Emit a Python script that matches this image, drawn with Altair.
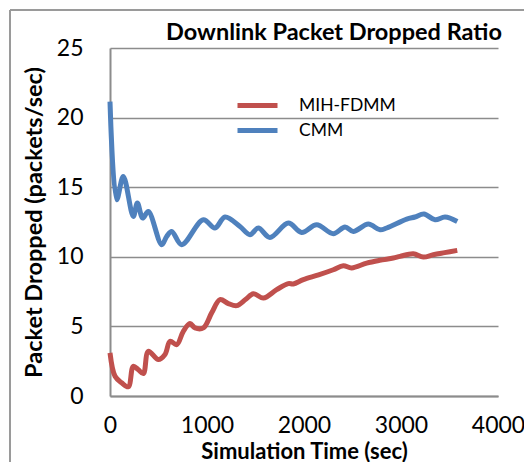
import altair as alt
import pandas as pd

# MIH-FDMM series (red)
mih_x = [0, 52, 120, 189, 240, 290, 344, 395, 498, 567, 619, 688, 756, 825, 876, 962, 1048,
         1134, 1220, 1306, 1400, 1478, 1581, 1718, 1838, 1890, 1993, 2150, 2302, 2405, 2491,
         2646, 2780, 2921, 2990, 3127, 3230, 3333, 3450, 3580]
mih_y = [3.1, 1.42, 0.95, 0.66, 2.14, 1.9, 1.61, 3.21, 2.62, 2.98, 3.93, 3.69, 4.65, 5.2, 4.89,
         4.89, 5.97, 6.92, 6.64, 6.49, 6.95, 7.35, 7.04, 7.64, 8.07, 8.05, 8.36, 8.7, 9.07, 9.36,
         9.2, 9.55, 9.75, 9.91, 10.03, 10.22, 9.98, 10.15, 10.3, 10.46]

# CMM series (blue)
cmm_x = [0, 69, 137, 240, 282, 337, 395, 533, 584, 636, 739, 962, 1082, 1186, 1340, 1443,
         1529, 1649, 1838, 1976, 2131, 2302, 2423, 2508, 2663, 2784, 2853, 3059, 3144, 3237,
         3351, 3454, 3580]
cmm_y = [21.15, 14.1, 15.77, 12.9, 13.86, 12.78, 13.26, 10.87, 11.46, 11.82, 10.87, 12.66,
         12.07, 12.86, 12.18, 11.59, 12.07, 11.39, 12.42, 11.75, 12.3, 11.66, 12.14, 11.82,
         12.35, 11.94, 12.07, 12.71, 12.86, 13.07, 12.66, 12.86, 12.54]

series_names = ["MIH-FDMM", "CMM"]
series_colors = ["#C0504D", "#4F81BD"]
y_ticks = [0, 5, 10, 15, 20, 25]
x_ticks = [0, 1000, 2000, 3000, 4000]
chart_title = "Downlink Packet Dropped Ratio"

df = pd.concat([
    pd.DataFrame({"t": mih_x, "v": mih_y, "s": series_names[0]}),
    pd.DataFrame({"t": cmm_x, "v": cmm_y, "s": series_names[1]}),
])

FONT = "Lato"
GRID = "#8c8c8c"

lines = alt.Chart(df).mark_line(strokeWidth=5, interpolate="catmull-rom").encode(
    x=alt.X("t:Q", scale=alt.Scale(domain=[0, 4000], nice=False),
            axis=alt.Axis(values=x_ticks, grid=False, ticks=False, labelPadding=18,
                          labelFlush=False, titleFontSize=22,
                          title="Simulation Time (sec)", titleY=62,
                          titleBaseline="alphabetic", format="d")),
    y=alt.Y("v:Q", scale=alt.Scale(domain=[0, 25], nice=False),
            axis=alt.Axis(values=y_ticks, grid=True, ticks=False, labelPadding=27,
                          title="Packet Dropped (packets/sec)", titleX=-69, titleY=174,
                          titleAngle=-90, titleAlign="center",
                          titleBaseline="alphabetic")),
    color=alt.Color("s:N", scale=alt.Scale(domain=series_names, range=series_colors),
                    legend=alt.Legend(title=None, orient="none", legendX=125, legendY=45,
                                      symbolType="stroke", symbolSize=1600,
                                      symbolStrokeWidth=5, clipHeight=25, rowPadding=0,
                                      labelOffset=19, labelFontSize=17.5, labelFont=FONT,
                                      labelColor="#000000", padding=0)),
    order="t:Q",
)

frame_src = pd.DataFrame({"a": [0]})
frame_left = alt.Chart(frame_src).mark_rule(color="#9a9a9a", strokeWidth=2).encode(
    x=alt.value(-100), y=alt.value(-38), y2=alt.value(440))
frame_top = alt.Chart(frame_src).mark_rule(color="#9a9a9a", strokeWidth=2).encode(
    x=alt.value(-100), x2=alt.value(440), y=alt.value(-38))

title_text = alt.Chart(frame_src).mark_text(
    font=FONT, fontSize=23.5, fontWeight="bold", color="#000000",
    align="center", baseline="alphabetic"
).encode(x=alt.value(224), y=alt.value(-8), text=alt.value(chart_title))

chart = alt.layer(frame_left, frame_top, title_text, lines).properties(
    width=388, height=348,
    autosize=alt.AutoSizeParams(type="none"),
    padding={"left": 102, "top": 40, "right": 26, "bottom": 66},
).configure(background="white").configure_view(stroke=None).configure_axis(
    domainColor=GRID, domainWidth=2, gridColor=GRID, gridWidth=1.5,
    labelFont=FONT, labelFontSize=23, labelColor="#000000",
    titleFont=FONT, titleFontSize=23.5, titleFontWeight="bold", titleColor="#000000",
)

chart.save("out.html", embed_options={"renderer": "svg", "actions": False})
